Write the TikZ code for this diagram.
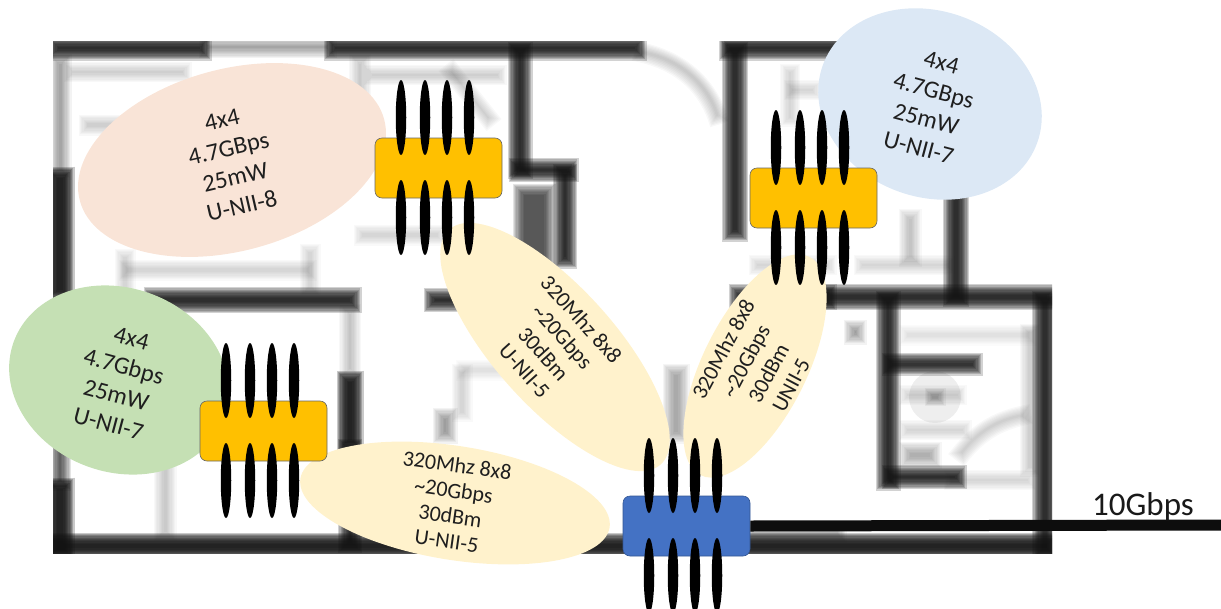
\documentclass[tikz,border=0pt]{standalone}
\usepackage{fontspec}
\setmainfont{Carlito}
\usetikzlibrary{shapes.geometric}
\definecolor{peachc}{HTML}{F9E4D7}
\definecolor{skyc}{HTML}{DCE8F5}
\definecolor{greenc}{HTML}{C5E0B4}
\definecolor{creamc}{HTML}{FFF2CC}
\definecolor{amberc}{HTML}{FFC000}
\definecolor{bluec}{HTML}{4472C4}
\definecolor{wallc}{HTML}{111111}
\tikzset{
  zone/.style={ellipse,inner sep=0pt,draw=none},
  routerbox/.style={rectangle,rounded corners=7pt,minimum width=127pt,minimum height=60pt,inner sep=0pt,line width=0.6pt},
  antenna/.style={ellipse,fill=black,draw=none,inner sep=0pt,minimum width=10.5pt,minimum height=75pt},
  bigtext/.style={align=center,font=\fontsize{24.5}{29.5}\selectfont,text=black!88},
  smalltext/.style={align=center,font=\fontsize{22}{25.5}\selectfont,text=black!88},
  link/.style={line width=11pt,color=black!95}
}
% blurred plan wall: width, opacity factor, path
\newcommand{\wallp}[3]{\foreach \e in {13,10.5,8,5.5,3,0.5,-2,-4.5,-7,-9.5}{\pgfmathsetmacro{\wd}{#1+\e}\pgfmathsetmacro{\op}{\wd<1.5?0:(#2<0.5?0.11*#2:0.19*#2)}\pgfmathsetmacro{\sh}{-\e/2}\pgfmathsetmacro{\lw}{max(\wd,1)}\draw[wallc,line width=\lw pt,opacity=\op,shorten <=\sh pt,shorten >=\sh pt] #3;}}
% router: name, left, top, fill, border
\newcommand{\router}[5]{%
  \node[routerbox,fill=#4,draw=#5] (#1) at (#2+63.5,#3+30) {};
  \foreach \i/\dx in {a/26,b/50,c/72,d/94}{
    \node[antenna] (#1t\i) at (#2+\dx,#3-20.5) {};
    \node[antenna] (#1b\i) at (#2+\dx,#3+79.5) {};
  }
}
\begin{document}
\begin{tikzpicture}[x=1pt,y=-1pt]
\useasboundingbox (0,0) rectangle (1221,608);
\clip (0,0) rectangle (1221,608);
% floor plan
\begin{scope}
\clip (53,41) rectangle (1052,553);
% faint lines
\wallp{9}{.45}{(205,47)--(330,47)}
\wallp{10}{.45}{(60,60)--(60,173)}
\wallp{7}{.25}{(70,72)--(185,72)}
\wallp{8}{.25}{(85,125)--(180,125)}
\wallp{9}{.25}{(360,60)--(360,120)}
\wallp{7}{.25}{(370,75)--(500,75)}
\wallp{6}{.25}{(450,70)--(490,120)}
\wallp{8}{.2}{(125,255)--(125,290)}
\wallp{8}{.2}{(125,270)--(310,270)}
\wallp{8}{.22}{(310,250)--(310,290)}
\wallp{8}{.22}{(360,235)--(440,235)}
\wallp{10}{.25}{(165,400)--(165,535)}
\wallp{9}{.3}{(350,310)--(350,372)}
\wallp{12}{.45}{(445,414)--(445,437)}
\wallp{8}{.2}{(462,370)--(462,415)}
\wallp{8}{.15}{(462,370)--(610,370)}
\wallp{7}{.3}{(640,52) .. controls (685,60) and (710,90) .. (718,118)}
\wallp{7}{.22}{(790,90)--(815,90)}
\wallp{7}{.22}{(790,70)--(790,120)}
\wallp{10}{.3}{(910,215)--(910,260)}
\wallp{7}{.22}{(860,265)--(950,265)}
\wallp{7}{.22}{(755,265)--(830,265)}
\wallp{14}{.4}{(676,370)--(676,437)}
\wallp{12}{.45}{(850,332)--(860,332)}
\wallp{8}{.15}{(905,335)--(1030,335)}
\wallp{8}{.25}{(1030,330)--(1030,470)}
\wallp{7}{.2}{(905,395)--(960,395)}
\wallp{7}{.2}{(905,430)--(965,430)}
\wallp{7}{.25}{(960,455) .. controls (975,435) and (995,420) .. (1025,415)}
\wallp{14}{.35}{(905,455)--(935,455)}
\wallp{7}{.2}{(950,480)--(1030,480)}
\wallp{8}{.4}{(750,532)--(840,532)}
\wallp{5}{.45}{(931,397)--(939,397)}
\fill[wallc,opacity=.07] (935,397) circle (26pt);
\wallp{30}{.6}{(534,190)--(534,262)}
% strong walls
\wallp{12}{1}{(53,48)--(205,48)}
\wallp{12}{1}{(330,48)--(640,48)}
\wallp{12}{1}{(725,48)--(835,48)}
\wallp{12}{1}{(520,48)--(520,172)}
\wallp{11}{1}{(515,170)--(572,170)}
\wallp{11}{1}{(565,170)--(565,262)}
\wallp{13}{1}{(735,48)--(735,235)}
\wallp{13}{1}{(956,190)--(956,300)}
\wallp{13}{1}{(735,297)--(830,297)}
\wallp{13}{1}{(825,297)--(1052,297)}
\wallp{16}{1.2}{(60,173)--(60,295)}
\wallp{13}{1}{(150,300)--(355,300)}
\wallp{11}{1}{(430,300)--(470,300)}
\wallp{16}{1.2}{(60,484)--(60,553)}
\wallp{9}{.6}{(60,440)--(60,484)}
\wallp{14}{1.2}{(53,546)--(1052,546)}
\wallp{14}{1.2}{(350,377)--(350,445)}
\wallp{11}{1}{(350,445)--(350,546)}
\wallp{12}{1}{(888,297)--(888,484)}
\wallp{10}{1}{(888,364)--(976,364)}
\wallp{11}{1}{(888,477)--(960,477)}
\wallp{13}{1}{(1045,297)--(1045,553)}
\end{scope}
% coverage zones
\node[zone,fill=peachc,minimum width=315pt,minimum height=182pt,rotate=15] (zpeach) at (232,160) {};
\node[zone,fill=skyc,minimum width=228pt,minimum height=186pt,rotate=-20] (zsky) at (930,104) {};
\node[zone,fill=greenc,minimum width=224pt,minimum height=184pt,rotate=-20] (zgreen) at (119,380) {};
\node[zone,fill=creamc,minimum width=316pt,minimum height=120pt,rotate=-48] (zone1) at (555,347) {};
\node[zone,fill=creamc,minimum width=244pt,minimum height=104pt,rotate=63.5] (zone2) at (755,366) {};
\node[zone,fill=creamc,minimum width=313pt,minimum height=114pt,rotate=-9] (zone3) at (455,503) {};
% link and routers
\coordinate (uplink) at (1221,525);
\router{rpeach}{375}{138}{amberc}{black!60}
\router{rsky}{750}{168}{amberc}{black!60}
\router{rgreen}{200}{401}{amberc}{black!60}
\router{rmain}{623}{496}{bluec}{bluec!75!black}
\draw[link] (rmain.east) -- (uplink);
\node[font=\fontsize{33}{38}\selectfont,text=black!90] (speed) at (1143,507) {10Gbps};
% labels
\node[bigtext,rotate=13] (tpeach) at (232,163) {4x4\\4.7GBps\\25mW\\U-NII-8};
\node[bigtext,rotate=-15] (tsky) at (930,105) {4x4\\4.7GBps\\25mW\\U-NII-7};
\node[bigtext,rotate=-15] (tgreen) at (120,381) {4x4\\4.7Gbps\\25mW\\U-NII-7};
\node[smalltext,rotate=-48] (tone1) at (553,345) {320Mhz 8x8\\\textasciitilde20Gbps\\30dBm\\U-NII-5};
\node[smalltext,rotate=62] (tone2) at (757,367) {320Mhz 8x8\\\textasciitilde20Gbps\\30dBm\\UNII-5};
\node[smalltext,rotate=-8] (tone3) at (452,503) {320Mhz 8x8\\\textasciitilde20Gbps\\30dBm\\U-NII-5};
\end{tikzpicture}
\end{document}
